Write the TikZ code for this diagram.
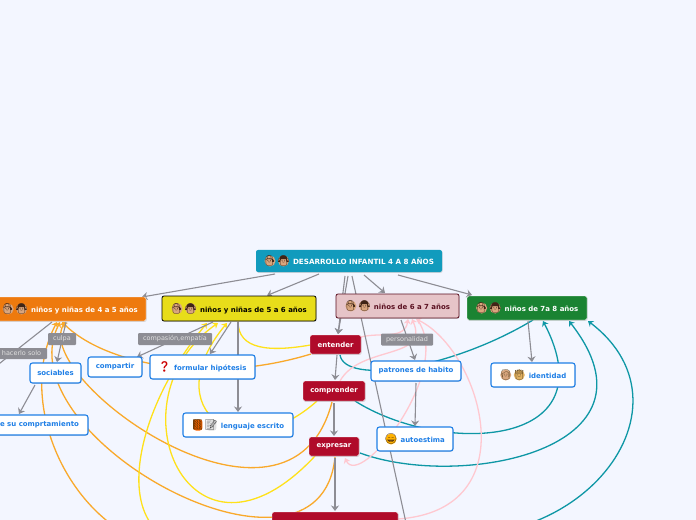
\documentclass[tikz,border=0pt]{standalone}
\usepackage{fontspec}
\setmainfont{DejaVu Sans}
\newfontfamily\emojifont{Noto Emoji}
\usetikzlibrary{arrows.meta,calc,positioning,shadows,backgrounds}
\definecolor{bgblue}{HTML}{F3F6FF}
\definecolor{rootblue}{HTML}{119BBD}
\definecolor{orangefill}{HTML}{EE7A0E}
\definecolor{yellowfill}{HTML}{E8DD1A}
\definecolor{pinkfill}{HTML}{E6C4C8}
\definecolor{pinkdark}{HTML}{5A1020}
\definecolor{greenfill}{HTML}{1A8332}
\definecolor{redfill}{HTML}{B00B2A}
\definecolor{linkblue}{HTML}{1F7FE6}
\definecolor{greyline}{HTML}{8D8D94}
\definecolor{orangeline}{HTML}{F9A92B}
\definecolor{yellowline}{HTML}{FFE11A}
\definecolor{tealline}{HTML}{0E97A5}
\definecolor{pinkline}{HTML}{FFC8D0}
\definecolor{skin}{HTML}{D9A67E}
\definecolor{hairdark}{HTML}{3F2416}
\definecolor{blond}{HTML}{E0B060}
% shape behind an emoji glyph
\newcommand{\emo}[4][circle (5.5bp)]{\makebox[12bp]{\makebox[0pt]{\raisebox{-2bp}{\tikz\fill[#2] (0,0) #1;}}\makebox[0pt]{\emojifont\fontsize{10.5}{10.5}\selectfont\textcolor{#3}{#4}}}}
\newcommand{\kids}{\emo{skin}{hairdark}{👦}\hspace{1.5bp}\emo{skin}{hairdark}{👧}\hspace{3.5bp}}
\begin{document}
\begin{tikzpicture}[x=1bp,y=-1bp,
topic/.style={rectangle,rounded corners=2bp,text=white,font=\fontsize{7}{8}\bfseries,inner sep=0pt,drop shadow={shadow xshift=.6bp,shadow yshift=-.8bp,opacity=.3}},
redbox/.style={topic,fill=redfill,draw=white,line width=.4bp},
leaf/.style={rectangle,rounded corners=2.5bp,fill=white,draw=linkblue,line width=1.1bp,text=linkblue,font=\fontsize{7}{8}\bfseries,inner sep=0pt,drop shadow={shadow xshift=.6bp,shadow yshift=-.8bp,opacity=.25}},
tag/.style={rectangle,rounded corners=1bp,fill=greyline,text=white!88!black,font=\fontsize{6.5}{7}\selectfont,inner sep=0pt},
arrow/.style={draw=greyline,line width=1.1bp,-{Stealth[width=8bp,length=5.5bp]}},
link/.style={line width=1.3bp,-{Stealth[width=7bp,length=5bp]}},
plain/.style={line width=1.3bp}]
\path[use as bounding box] (0,0) rectangle (696,520);
\node[topic,fill=rootblue,minimum width=186bp,minimum height=22bp,font=\fontsize{7.2}{8}\bfseries] (root) at (349,261) {\kids DESARROLLO INFANTIL 4 A 8 AÑOS};
\node[topic,fill=orangefill,draw=white,line width=.4bp,minimum width=152bp,minimum height=24bp] (A45) at (70,309) {\kids niños y niñas de 4 a 5 años};
\node[topic,fill=yellowfill,draw=black,line width=.8bp,text=black,minimum width=154bp,minimum height=25bp] (A56) at (239,308.5) {\kids niños y niñas de 5 a 6 años};
\node[topic,fill=pinkfill,draw=pinkdark,line width=.8bp,text=pinkdark,minimum width=123bp,minimum height=24bp] (A67) at (397.5,306) {\kids niños de 6 a 7 años};
\node[topic,fill=greenfill,draw=white,line width=.4bp,minimum width=120bp,minimum height=24bp] (A78) at (527,308) {\kids niños de 7a 8 años};
\node[redbox,minimum width=51bp,minimum height=19bp] (entender) at (335.5,344.5) {entender};
\node[redbox,minimum width=62bp,minimum height=20bp] (comprender) at (334,391) {comprender};
\node[redbox,minimum width=50bp,minimum height=19bp] (expresar) at (334,446.5) {expresar};
\node[redbox,minimum width=126bp,minimum height=30bp] (bottom) at (335,527) {\makebox[110bp][l]{\raisebox{4bp}{\kids}}};
\node[leaf,minimum width=90bp,minimum height=20bp] (patrones) at (416,371) {patrones de habito};
\node[leaf,minimum width=84bp,minimum height=24bp] (identidad) at (533,375) {\emo{skin}{blond!40!black}{👱}\hspace{1.5bp}\emo{blond}{blond!40!black}{👸}\hspace{3.5bp}identidad};
\node[leaf,minimum width=76bp,minimum height=24bp] (autoestima) at (415,439) {\emo{orange!60!yellow}{hairdark}{😄}\hspace{3.5bp}autoestima};
\node[leaf,minimum width=51bp,minimum height=20bp] (sociables) at (55.5,373) {sociables};
\node[leaf,minimum width=54bp,minimum height=20bp] (compartir) at (115,367) {compartir};
\node[leaf,minimum width=105bp,minimum height=24bp] (formular) at (202.5,367) {\emo[circle (0bp)]{white}{red!80!black}{❓}\hspace{3.5bp}formular hipótesis};
\node[leaf,minimum width=110bp,minimum height=24bp] (lenguaje) at (238,425) {\emo[rectangle (9bp,11bp)]{orange!80!red}{orange!40!black}{📙}\hspace{1.5bp}\emo[rectangle (10bp,11bp)]{black!12}{black!70}{📝}\hspace{3.5bp}lenguaje escrito};
\node[leaf,minimum width=104bp,minimum height=20bp] (conducta) at (36,425) {\hspace{2bp}de su comprtamiento};
\node[tag,minimum width=28bp,minimum height=12bp] (culpa) at (62,339) {culpa};
\node[tag,minimum width=57bp,minimum height=11bp] (solo) at (18.5,353.5) {a hacerlo solo};
\node[tag,minimum width=74bp,minimum height=12bp] (compasion) at (175,339) {compasión,empatía};
\node[tag,minimum width=52bp,minimum height=12bp] (personalidad) at (407,339.5) {personalidad};
\coordinate (below) at (408,532);
\coordinate (offleft) at (-10,371);
\begin{scope}[on background layer]
\fill[bgblue] (0,0) rectangle (696,520);
\clip (0,0) rectangle (696,520);
% orange
\draw[link,orangeline] ([shift={(-24.5,9.5)}]entender.center) .. controls (210,385) and (105,365) .. ([shift={(-8,13)}]A45.center);
\draw[link,orangeline] ([shift={(-2,11)}]comprender.center) .. controls (290,565) and (31,380) .. ([shift={(-5,13)}]A45.center);
\draw[link,orangeline] ([shift={(1,10.5)}]expresar.center) .. controls (320,610) and (2,437) .. ([shift={(-10,13)}]A45.center);
\draw[link,orangeline] (bottom.west) .. controls (120,620) and (0,430) .. ([shift={(-13,13)}]A45.center);
% yellow
\draw[plain,yellowline] ([shift={(-1,13)}]A56.center) .. controls (238,350) and (270,352) .. ([shift={(-25,.5)}]entender.center);
\draw[link,yellowline] (bottom.west) .. controls (105,600) and (110,440) .. ([shift={(-32,14.5)}]A56.center);
\draw[link,yellowline] ([shift={(-19,9.5)}]expresar.center) .. controls (190,590) and (108,400) .. ([shift={(-21,14.5)}]A56.center);
\draw[link,yellowline] ([shift={(-17,10)}]comprender.center) .. controls (240,470) and (155,410) .. ([shift={(-12,14.5)}]A56.center);
% teal
\draw[plain,tealline] ([shift={(4.5,10.5)}]entender.center) .. controls (345,385) and (450,370) .. ([shift={(6,12)}]A78.center);
\draw[link,tealline] ([shift={(21,10)}]comprender.center) .. controls (440,455) and (610,450) .. ([shift={(16,13)}]A78.center);
\draw[link,tealline] ([shift={(26,6.5)}]expresar.center) .. controls (460,490) and (670,450) .. ([shift={(42,13)}]A78.center);
\draw[link,tealline] (bottom.east) .. controls (570,575) and (705,410) .. ([shift={(61,13)}]A78.center);
% pink
\draw[link,pinkline] ([shift={(25.5,-7.5)}]entender.center) .. controls (380,332) and (405,340) .. ([shift={(10.5,13)}]A67.center);
\draw[link,pinkline] ([shift={(6,-10)}]comprender.center) .. controls (360,345) and (430,360) .. ([shift={(14.5,13)}]A67.center);
\draw[link,pinkline] ([shift={(19.5,13)}]A67.center) .. controls (455,370) and (360,490) .. ([shift={(11,11.5)}]expresar.center);
\draw[link,pinkline] ([shift={(63,-8)}]bottom.center) .. controls (530,510) and (480,350) .. ([shift={(18.5,13)}]A67.center);
% grey
\draw[arrow] ([shift={(-74,13)}]root.center)--([shift={(72,-12)}]A45.center);
\draw[arrow] ([shift={(-30,13)}]root.center)--([shift={(28,-13)}]A56.center);
\draw[arrow] ([shift={(-4,15)}]root.center)--([shift={(2.5,-10.5)}]entender.center);
\draw[arrow] ([shift={(-1,15)}]root.center)--([shift={(2.5,-10.5)}]entender.center);
\draw[arrow] ([shift={(3,15)}]root.center)--(below);
\draw[arrow] ([shift={(15,14)}]root.center)--([shift={(-12.5,-13)}]A67.center);
\draw[arrow] ([shift={(49,14)}]root.center)--([shift={(-55,-13)}]A78.center);
\draw[arrow] ([shift={(3.5,14)}]A67.center)--([shift={(-1,-11)}]patrones.center);
\draw[arrow] ([shift={(0,12)}]patrones.center)--([shift={(0,-13)}]autoestima.center);
\draw[arrow] ([shift={(1,13)}]A78.center)--([shift={(-1,-13)}]identidad.center);
\draw[arrow] ([shift={(1.5,10.5)}]entender.center)--([shift={(1,-11)}]comprender.center);
\draw[arrow] ([shift={(0,12)}]comprender.center)--([shift={(0,-10.5)}]expresar.center);
\draw[arrow] ([shift={(1,11.5)}]expresar.center)--([shift={(0,-16)}]bottom.center);
\draw[arrow] ([shift={(-1,13.5)}]A56.center)--([shift={(0,-13)}]lenguaje.center);
\draw[arrow] ([shift={(-8,13.5)}]A56.center)--([shift={(7.5,-13)}]formular.center);
\draw[arrow] ([shift={(-26,13.5)}]A56.center)--([shift={(22,-10)}]compartir.center);
\draw[arrow] ([shift={(-4,13)}]A45.center)--([shift={(1.5,-11)}]sociables.center);
\draw[arrow] ([shift={(-18,13)}]A45.center)--(offleft);
\draw[arrow] ([shift={(-20.5,12)}]sociables.center)--([shift={(-17,-11)}]conducta.center);
\end{scope}
\end{tikzpicture}
\end{document}
